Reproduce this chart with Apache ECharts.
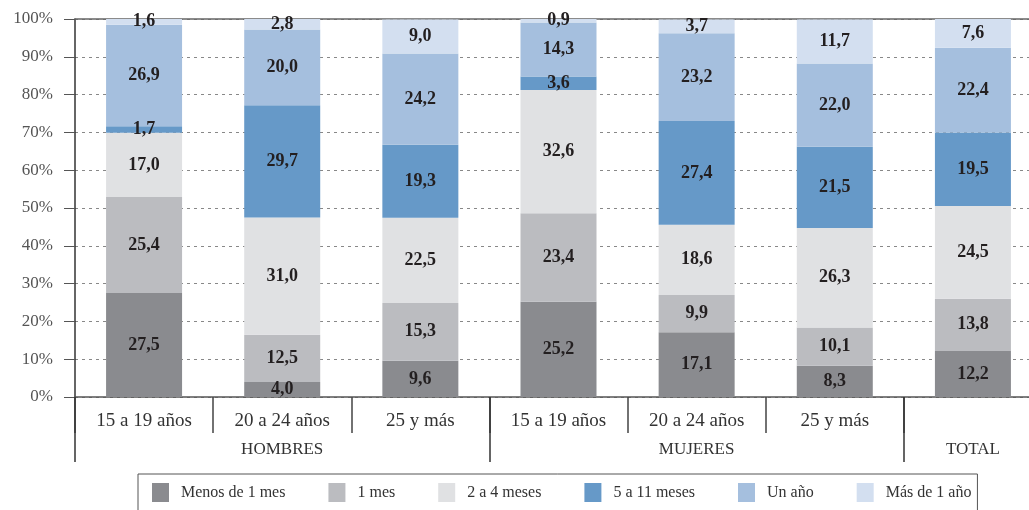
<!DOCTYPE html>
<html>
<head>
<meta charset="utf-8">
<script src="https://cdn.jsdelivr.net/npm/echarts@6/dist/echarts.min.js"></script>
<style>html,body{margin:0;padding:0;background:#fff;overflow:hidden}#c{width:1042px;height:510px}</style>
</head>
<body>
<div id="c"></div>
<script>
var categories = ['15 a 19 años', '20 a 24 años', '25 y más', '15 a 19 años', '20 a 24 años', '25 y más', ''];
var groups = ['', 'HOMBRES', '', '', 'MUJERES', '', 'TOTAL'];
var seriesNames = ['Menos de 1 mes', '1 mes', '2 a 4 meses', '5 a 11 meses', 'Un año', 'Más de 1 año'];
var menos1mes = [27.5, 4.0, 9.6, 25.2, 17.1, 8.3, 12.2];
var un1mes = [25.4, 12.5, 15.3, 23.4, 9.9, 10.1, 13.8];
var de2a4 = [17.0, 31.0, 22.5, 32.6, 18.6, 26.3, 24.5];
var de5a11 = [1.7, 29.7, 19.3, 3.6, 27.4, 21.5, 19.5];
var unAno = [26.9, 20.0, 24.2, 14.3, 23.2, 22.0, 22.4];
var mas1ano = [1.6, 2.8, 9.0, 0.9, 3.7, 11.7, 7.6];
var yTicks = [0, 10, 20, 30, 40, 50, 60, 70, 80, 90, 100];

var colors = ['#8a8b8f', '#bbbcc0', '#e0e1e3', '#6699c8', '#a5bfde', '#d3dff0'];
var values = [menos1mes, un1mes, de2a4, de5a11, unAno, mas1ano];
var FONT = 'Liberation Serif';

var chart = echarts.init(document.getElementById('c'), null, {renderer: 'canvas'});
var series = seriesNames.map(function (n, i) {
  return {
    name: n,
    type: 'bar',
    stack: 'total',
    xAxisIndex: 0,
    barWidth: 76,
    itemStyle: {color: colors[i]},
    label: {
      show: true,
      position: 'inside',
      color: '#231f20',
      fontFamily: FONT,
      fontWeight: 'bold',
      fontSize: 18,
      formatter: function (p) { return p.value.toFixed(1).replace('.', ','); }
    },
    data: values[i]
  };
});

chart.setOption({
  animation: false,
  textStyle: {fontFamily: FONT},
  grid: {left: 75, right: 0, top: 19, bottom: 113, containLabel: false},
  legend: {
    data: seriesNames,
    left: 138,
    top: 474,
    padding: [9, 6, 10, 14],
    borderColor: '#555',
    borderWidth: 1,
    itemWidth: 17,
    itemHeight: 19,
    itemGap: 43,
    icon: 'rect',
    textStyle: {fontFamily: FONT, fontSize: 16, color: '#333', padding: [0, 0, 0, 7]}
  },
  xAxis: [
    {
      type: 'category',
      data: categories,
      position: 'bottom',
      axisLine: {show: true, lineStyle: {color: '#555', width: 1.5}},
      axisTick: {show: true, length: 36, lineStyle: {color: '#444', width: 1.5}},
      axisLabel: {margin: 15, color: '#333', fontFamily: FONT, fontSize: 19}
    },
    {
      type: 'category',
      data: groups,
      position: 'bottom',
      axisLine: {show: false},
      axisTick: {show: true, length: 65, lineStyle: {color: '#333', width: 1.5},
        interval: function (i) { return i === 0 || i === 3 || i === 6; }},
      axisLabel: {margin: 44, color: '#333', fontFamily: FONT, fontSize: 17, interval: 0}
    },
    {
      type: 'category',
      data: categories,
      position: 'top',
      axisLine: {show: true, lineStyle: {color: '#666', width: 1.5}},
      axisTick: {show: false},
      axisLabel: {show: false}
    }
  ],
  yAxis: {
    type: 'value',
    min: 0,
    max: 100,
    interval: 10,
    axisLine: {show: true, lineStyle: {color: '#333', width: 1.5}},
    axisTick: {show: true, length: 11, lineStyle: {color: '#555'}},
    axisLabel: {
      margin: 22,
      color: '#555',
      fontFamily: FONT,
      fontSize: 17,
      formatter: function (v) { return yTicks.indexOf(v) >= 0 ? v + '%' : ''; }
    },
    splitLine: {show: true, lineStyle: {color: '#888', type: [3, 4], width: 1}}
  },
  series: series
});
</script>
</body>
</html>
